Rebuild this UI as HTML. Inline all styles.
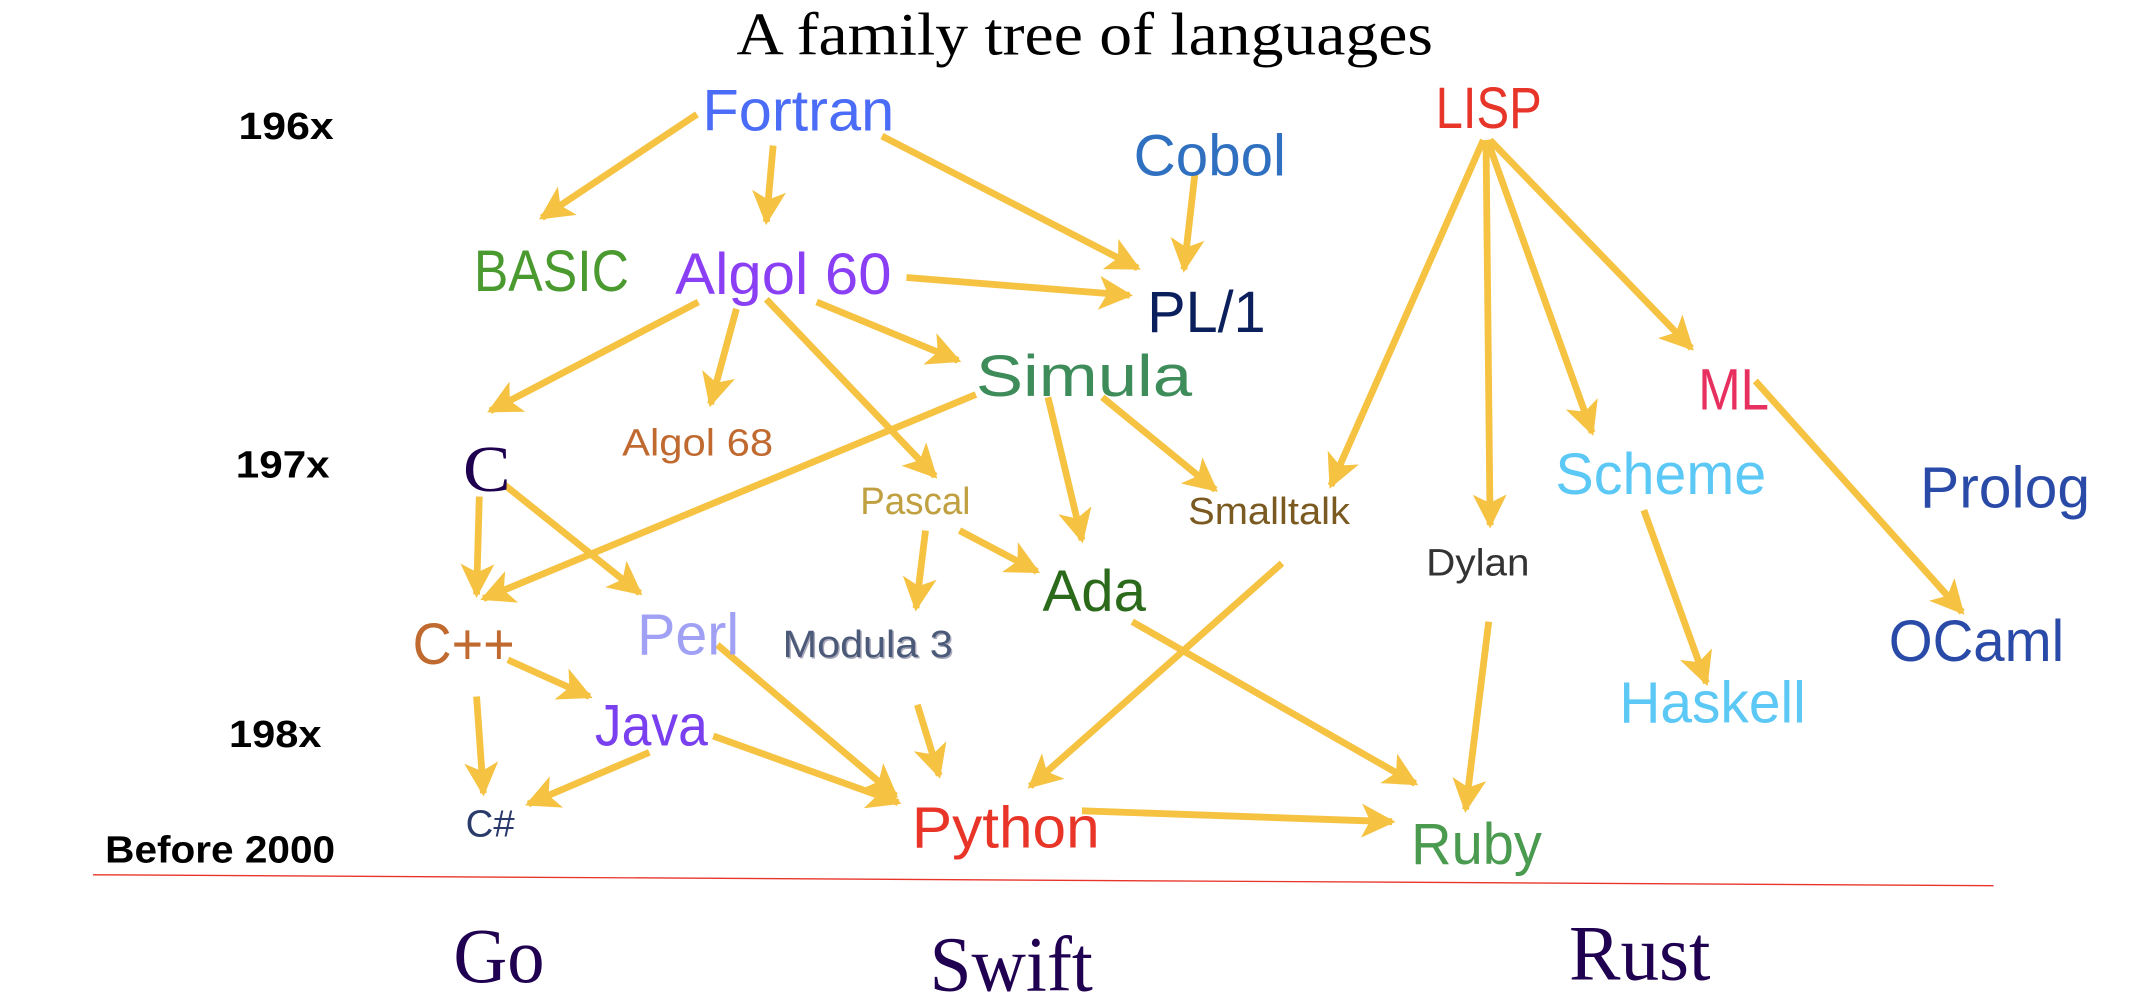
<!DOCTYPE html>
<html><head><meta charset="utf-8"><style>
html,body{margin:0;padding:0;background:#fff;}
svg{display:block;}
text{font-family:"Liberation Sans",sans-serif;}
.s{font-family:"Liberation Serif",serif;}
</style></head><body>
<svg width="2134" height="1004" viewBox="0 0 1568 738" xmlns="http://www.w3.org/2000/svg">
<defs>
<marker id="a" viewBox="0 0 10 10" refX="9" refY="5" markerWidth="5.5" markerHeight="5" markerUnits="strokeWidth" orient="auto">
<path d="M0,0 L10,5 L0,10 L2.5,5 z" fill="#f5c242"/>
</marker>
</defs>
<g stroke="#f5c242" stroke-width="5" fill="none" marker-end="url(#a)">
<line x1="512" y1="84" x2="398" y2="160"/>
<line x1="568" y1="107" x2="563" y2="163"/>
<line x1="648" y1="100" x2="836" y2="197"/>
<line x1="878" y1="128" x2="870" y2="198"/>
<line x1="666" y1="204" x2="830" y2="217"/>
<line x1="513" y1="222" x2="360" y2="302"/>
<line x1="541" y1="227" x2="522" y2="297"/>
<line x1="600" y1="222" x2="704" y2="265"/>
<line x1="563" y1="220" x2="687" y2="350"/>
<line x1="717" y1="290" x2="355" y2="440"/>
<line x1="770" y1="292" x2="795" y2="397"/>
<line x1="810" y1="292" x2="893" y2="360"/>
<line x1="352" y1="365" x2="350" y2="437"/>
<line x1="370" y1="356" x2="470" y2="436"/>
<line x1="680" y1="390" x2="673" y2="447"/>
<line x1="705" y1="390" x2="762" y2="420"/>
<line x1="1090" y1="103" x2="978" y2="357"/>
<line x1="1092" y1="103" x2="1095" y2="386"/>
<line x1="1093" y1="103" x2="1170" y2="318"/>
<line x1="1095" y1="103" x2="1243" y2="256"/>
<line x1="1290" y1="280" x2="1442" y2="450"/>
<line x1="1208" y1="375" x2="1254" y2="502"/>
<line x1="942" y1="414" x2="757" y2="578"/>
<line x1="832" y1="457" x2="1040" y2="576"/>
<line x1="1094" y1="457" x2="1077" y2="595"/>
<line x1="373" y1="485" x2="433" y2="512"/>
<line x1="350" y1="512" x2="355" y2="583"/>
<line x1="477" y1="553" x2="388" y2="591"/>
<line x1="524" y1="541" x2="660" y2="590"/>
<line x1="527" y1="474" x2="658" y2="585"/>
<line x1="674" y1="518" x2="690" y2="570"/>
<line x1="795" y1="596" x2="1023" y2="604"/>
</g>
<line x1="68" y1="643" x2="1465" y2="651" stroke="#e8352a" stroke-width="1"/>
<text class="s" x="541" y="40" font-size="44" textLength="512" lengthAdjust="spacingAndGlyphs" fill="#000">A family tree of languages</text>
<g font-weight="bold" font-size="28" fill="#000">
<text x="175" y="102" textLength="70" lengthAdjust="spacingAndGlyphs">196x</text>
<text x="173" y="351" textLength="69" lengthAdjust="spacingAndGlyphs">197x</text>
<text x="168" y="549" textLength="68" lengthAdjust="spacingAndGlyphs">198x</text>
<text x="77" y="634" textLength="169" lengthAdjust="spacingAndGlyphs">Before 2000</text>
</g>
<g font-size="43">
<text x="516" y="96" textLength="141" lengthAdjust="spacingAndGlyphs" fill="#4a6cf7">Fortran</text>
<text x="833" y="129" textLength="112" lengthAdjust="spacingAndGlyphs" fill="#3070c0">Cobol</text>
<text x="1055" y="94" textLength="78" lengthAdjust="spacingAndGlyphs" fill="#e8352a">LISP</text>
<text x="348" y="214" textLength="114" lengthAdjust="spacingAndGlyphs" fill="#4a9a30">BASIC</text>
<text x="496" y="216" textLength="159" lengthAdjust="spacingAndGlyphs" fill="#8a3ff5">Algol 60</text>
<text x="843" y="244" textLength="87" lengthAdjust="spacingAndGlyphs" fill="#0a1f5c">PL/1</text>
<text x="717" y="291" textLength="159" lengthAdjust="spacingAndGlyphs" fill="#3d8c5a">Simula</text>
<text x="1248" y="301" textLength="52" lengthAdjust="spacingAndGlyphs" fill="#e83060">ML</text>
<text x="1143" y="363" textLength="155" lengthAdjust="spacingAndGlyphs" fill="#5bc8f5">Scheme</text>
<text x="1411" y="373" textLength="125" lengthAdjust="spacingAndGlyphs" fill="#2a4aa8">Prolog</text>
<text x="766" y="449" textLength="76" lengthAdjust="spacingAndGlyphs" fill="#2a6a1a">Ada</text>
<text x="303" y="488" textLength="75" lengthAdjust="spacingAndGlyphs" fill="#c06a30">C++</text>
<text x="468" y="481" textLength="75" lengthAdjust="spacingAndGlyphs" fill="#a0a0f5">Perl</text>
<text x="1388" y="486" textLength="129" lengthAdjust="spacingAndGlyphs" fill="#2a4aa8">OCaml</text>
<text x="1190" y="531" textLength="137" lengthAdjust="spacingAndGlyphs" fill="#5bc8f5">Haskell</text>
<text x="437" y="548" textLength="83" lengthAdjust="spacingAndGlyphs" fill="#7a40f0">Java</text>
<text x="670" y="623" textLength="138" lengthAdjust="spacingAndGlyphs" fill="#e83528">Python</text>
<text x="1037" y="635" textLength="96" lengthAdjust="spacingAndGlyphs" fill="#4a9a50">Ruby</text>
</g>
<g font-size="28">
<text x="457" y="335" textLength="111" lengthAdjust="spacingAndGlyphs" fill="#c06a30">Algol 68</text>
<text x="632" y="378" textLength="81" lengthAdjust="spacingAndGlyphs" fill="#c0a040">Pascal</text>
<text x="873" y="385" textLength="119" lengthAdjust="spacingAndGlyphs" fill="#7a5a20">Smalltalk</text>
<text x="1048" y="423" textLength="76" lengthAdjust="spacingAndGlyphs" fill="#333">Dylan</text>
<text x="576" y="484" textLength="125" lengthAdjust="spacingAndGlyphs" fill="#aab">Modula 3</text>
<text x="575" y="483" textLength="125" lengthAdjust="spacingAndGlyphs" fill="#4a5a78">Modula 3</text>
<text x="342" y="615" textLength="36" lengthAdjust="spacingAndGlyphs" fill="#2a3a6a">C#</text>
</g>
<text class="s" x="340" y="361" font-size="48" textLength="35" lengthAdjust="spacingAndGlyphs" fill="#1f0050">C</text>
<g fill="#200050">
<text class="s" font-size="58" x="333" y="722" textLength="67" lengthAdjust="spacingAndGlyphs">Go</text>
<text class="s" font-size="58" x="683" y="728" textLength="120" lengthAdjust="spacingAndGlyphs">Swift</text>
<text class="s" font-size="58" x="1153" y="720" textLength="104" lengthAdjust="spacingAndGlyphs">Rust</text>
</g>
</svg>
</body></html>
